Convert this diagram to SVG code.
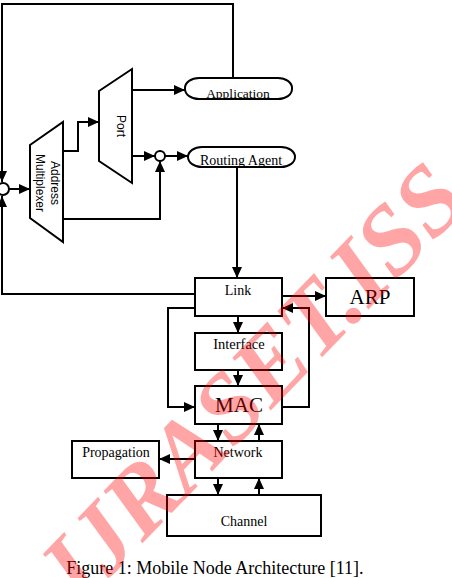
<svg xmlns="http://www.w3.org/2000/svg" width="452" height="578" viewBox="0 0 452 578">
<style>
.ln{fill:none;stroke:#000;stroke-width:2}
.bx{fill:#fff;stroke:#000;stroke-width:2}
.ar{marker-end:url(#ah)}
.t{font-family:"Liberation Serif","Times New Roman",serif;fill:#000;text-anchor:middle}
.s{font-family:"Liberation Sans",Arial,sans-serif;fill:#000;text-anchor:middle;font-size:12px}
.wm{font-family:"Liberation Serif","Times New Roman",serif;font-weight:bold;font-style:italic;fill:#ff0000;opacity:0.35}
</style>
<defs>
<marker id="ah" markerUnits="userSpaceOnUse" markerWidth="11" markerHeight="10" refX="11" refY="5" orient="auto">
<path d="M0,0 L11,5 L0,10 z" fill="#000"/>
</marker>
<clipPath id="cApp"><rect x="185" y="78" width="107" height="21" rx="14" ry="10"/></clipPath>
<clipPath id="cRA"><rect x="188" y="147" width="107" height="20" rx="14" ry="10"/></clipPath>
</defs>
<rect width="452" height="578" fill="#fff"/>
<g id="connectors">
<path class="ln ar" d="M233,78 V4 H2 V182"/>
<path class="ln ar" d="M195,294 H2 V196"/>
<path class="ln ar" d="M9,189 H30"/>
<path class="ln ar" d="M63,151 H78 V122 H99"/>
<path class="ln ar" d="M132,90 H185"/>
<path class="ln ar" d="M132,156 H155"/>
<path class="ln ar" d="M165,156 H188"/>
<path class="ln ar" d="M63,219 H160 V161"/>
<path class="ln ar" d="M237,167 V278"/>
<path class="ln ar" d="M282,296 H326"/>
<path class="ln ar" d="M282,407 H309 V308 H282"/>
<path class="ln ar" d="M195,308 H168 V407 H195"/>
<path class="ln ar" d="M238,316 V333"/>
<path class="ln ar" d="M238,370 V386"/>
<path class="ln ar" d="M218,424 V441"/>
<path class="ln ar" d="M259,441 V424"/>
<path class="ln ar" d="M195,459 H159"/>
<path class="ln ar" d="M218,478 V495"/>
<path class="ln ar" d="M259,495 V478"/>
</g>
<g id="joinLeft"><circle class="bx" cx="3" cy="189" r="6"/></g>
<g id="joinRA"><circle class="bx" cx="160" cy="156" r="5"/></g>
<g id="addressMux">
<polygon class="bx" points="30,145 63,122 63,242 30,218"/>
<text class="s" transform="translate(55,183) rotate(90)" dy="4">Address</text>
<text class="s" transform="translate(40,183) rotate(90)" dy="4">Multiplexer</text>
</g>
<g id="port">
<polygon class="bx" points="99,91 132,69 132,183 99,161"/>
<text class="s" transform="translate(121,126) rotate(90)" dy="4">Port</text>
</g>
<g id="application">
<rect class="bx" x="185" y="78" width="107" height="21" rx="14" ry="10"/>
<text class="t" x="238" y="98" font-size="13.5" clip-path="url(#cApp)">Application</text>
</g>
<g id="routingAgent">
<rect class="bx" x="188" y="147" width="107" height="20" rx="14" ry="10"/>
<text class="t" x="241" y="165" font-size="14" clip-path="url(#cRA)">Routing Agent</text>
</g>
<g id="link">
<rect class="bx" x="195" y="278" width="87" height="38"/>
<text class="t" x="238" y="295" font-size="14">Link</text>
</g>
<g id="arp">
<rect class="bx" x="326" y="278" width="88" height="38"/>
<text class="t" x="370" y="304" font-size="21">ARP</text>
</g>
<g id="interface">
<rect class="bx" x="195" y="333" width="87" height="37"/>
<text class="t" x="239" y="349" font-size="14.5">Interface</text>
</g>
<g id="mac">
<rect class="bx" x="195" y="386" width="87" height="38"/>
<text class="t" x="239" y="412" font-size="21">MAC</text>
</g>
<g id="network">
<rect class="bx" x="195" y="441" width="87" height="37"/>
<text class="t" x="238" y="457" font-size="14">Network</text>
</g>
<g id="propagation">
<rect class="bx" x="72" y="441" width="87" height="37"/>
<text class="t" x="116" y="457" font-size="14">Propagation</text>
</g>
<g id="channel">
<rect class="bx" x="167" y="495" width="154" height="41"/>
<text class="t" x="244" y="526" font-size="14">Channel</text>
</g>
<text class="t" x="215" y="574" font-size="18">Figure 1: Mobile Node Architecture [11].</text>
<text class="wm" transform="translate(82,606) rotate(-46)" font-size="98">IJRASET.ISS</text>
</svg>
